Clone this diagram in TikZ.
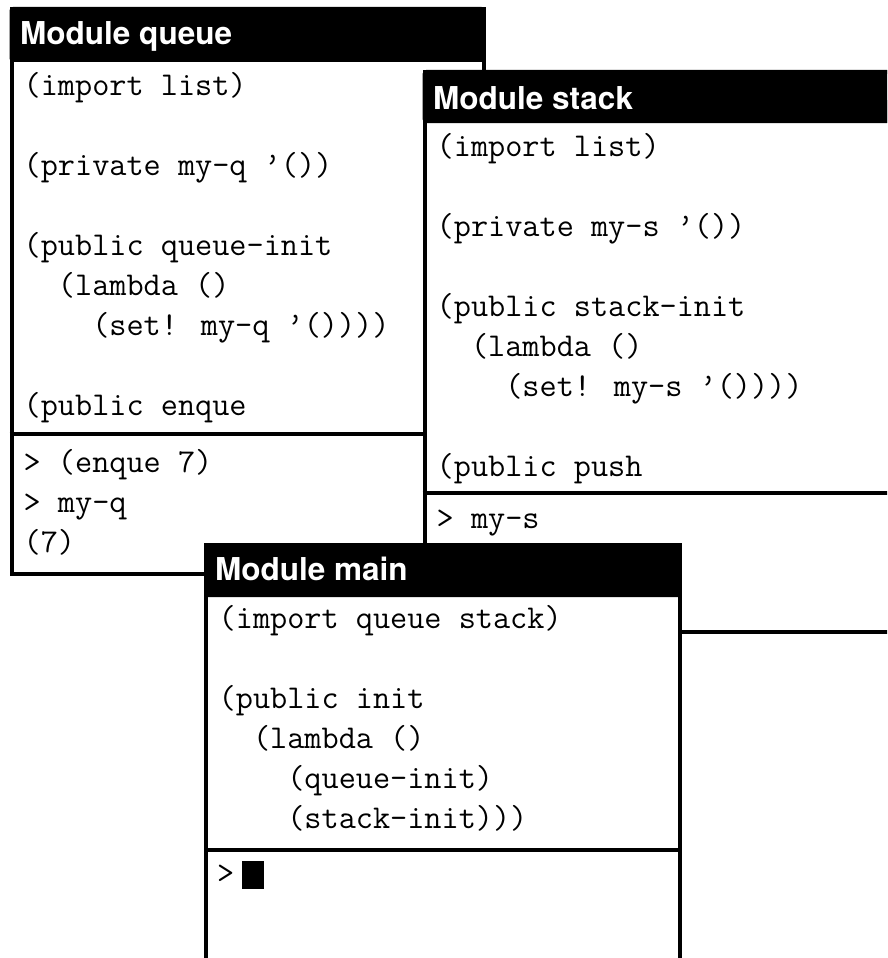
\documentclass[tikz,border=0pt]{standalone}
\usepackage{fontspec}
\newfontfamily\titlefont{TeX Gyre Heros}
\begin{document}
\begin{tikzpicture}[x=1pt,y=-1pt,
  code/.style={anchor=base west, inner sep=0pt, font=\ttfamily\fontsize{33.3}{33.3}\selectfont},
  wintitle/.style={anchor=base west, inner sep=0pt, text=white, font=\titlefont\bfseries\fontsize{31.5}{31.5}\selectfont},
  frame/.style={line width=4pt},
  bar/.style={fill=black, rounded corners=3.5pt},
  cursorbox/.style={fill=black, inner sep=0pt, minimum width=22pt, minimum height=28pt}]
\useasboundingbox (0,0) rectangle (887,958);
\begin{scope}
\clip (0,0) rectangle (887,958);
% ---------------- Module queue ----------------
\fill[white] (9.5,7) rectangle (485,575);
\draw[frame] (11.5,9) rectangle (483.5,573.5);
\fill[bar] (9.5,7) rectangle (485,62);
\fill (9.5,30) rectangle (485,62);
\draw[frame] (9.5,434) -- (485,434);
\node[wintitle] (qt) at (20,45) {Module queue};
\node[code] (q1) at (23.5,95) {(import list)};
\node[code] (q2) at (23.5,175) {(private my-q ’())};
\node[code] (q3) at (23.5,255) {(public queue-init};
\node[code] (q4) at (23.5,295) {\phantom{xx}(lambda ()};
\node[code] (q5) at (23.5,335) {\phantom{xxxx}(set! my-q ’())))};
\node[code] (q6) at (23.5,415) {(public enque};
\node[code] (q7) at (23.5,472) {> (enque 7)};
\node[code] (q8) at (23.5,512) {> my-q};
\node[code] (q9) at (23.5,552) {(7)};
% ---------------- Module stack ----------------
\fill[white] (422.7,70) rectangle (1000,633);
\draw[frame] (424.7,72) rectangle (1000,631.5);
\fill[bar] (422.7,70) rectangle (1000,123);
\fill (422.7,100) rectangle (1000,123);
\draw[frame] (422.7,492.5) -- (1000,492.5);
\node[wintitle] (st) at (433,109) {Module stack};
\node[code] (s1) at (436.5,156.7) {(import list)};
\node[code] (s2) at (436.5,236.7) {(private my-s ’())};
\node[code] (s3) at (436.5,316.7) {(public stack-init};
\node[code] (s4) at (436.5,356.7) {\phantom{xx}(lambda ()};
\node[code] (s5) at (436.5,396.7) {\phantom{xxxx}(set! my-s ’())))};
\node[code] (s6) at (436.5,476.7) {(public push};
\node[code] (s7) at (436.5,528) {> my-s};
% ---------------- Module main ----------------
\fill[white] (204,543) rectangle (681.5,1000);
\draw[frame] (206,545) rectangle (679.5,1000);
\fill[bar] (204,543) rectangle (681.5,597);
\fill (204,570) rectangle (681.5,597);
\draw[frame] (204,850) -- (681.5,850);
\node[wintitle] (mt) at (215,580) {Module main};
\node[code] (m1) at (218.5,628.5) {(import queue stack)};
\node[code] (m2) at (218.5,708.5) {(public init};
\node[code] (m3) at (218.5,748.5) {\phantom{xx}(lambda ()};
\node[code] (m4) at (218.5,788.5) {\phantom{xxxx}(queue-init)};
\node[code] (m5) at (218.5,828.5) {\phantom{xxxx}(stack-init)))};
\node[code] (m6) at (217,883) {>};
\node[cursorbox] (cur) at (253,875) {};
\end{scope}
\end{tikzpicture}
\end{document}
